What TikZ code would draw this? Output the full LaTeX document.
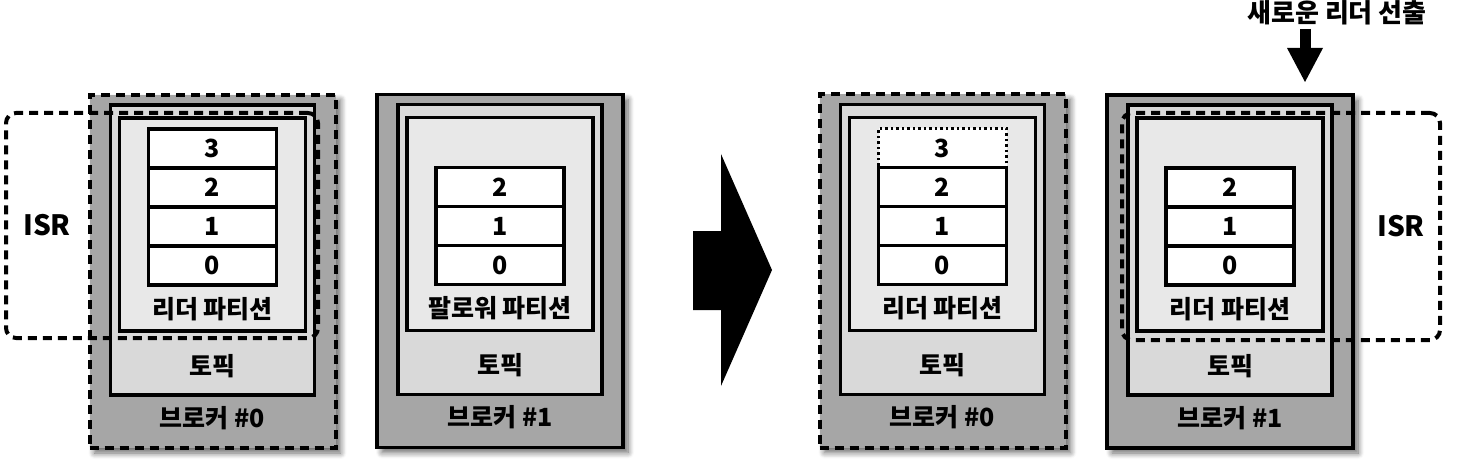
\documentclass[tikz,border=0pt]{standalone}
\usepackage{fontspec}
\setmainfont{Noto Sans CJK KR}
\usepackage{tikz}
\usetikzlibrary{arrows.meta, positioning, shadows.blur}
\usepackage{xcolor}
\definecolor{brokergray}{HTML}{A6A6A6}
\definecolor{topicgray}{HTML}{D9D9D9}
\definecolor{partgray}{HTML}{E8E8E8}

\begin{document}
\begin{tikzpicture}[
        x=1pt, y=-1pt,
        broker/.style={rectangle, draw, line width=3.5pt, fill=brokergray, minimum width=246pt, minimum height=353pt, outer sep=0pt,
            blur shadow={shadow xshift=5pt, shadow yshift=-5pt, shadow blur radius=6pt, shadow blur steps=8, shadow opacity=60}},
        dashbroker/.style={broker, dash pattern=on 9pt off 6pt, line width=4pt},
        topicbox/.style={rectangle, draw, line width=3.5pt, fill=topicgray, minimum width=204pt, minimum height=290pt, outer sep=0pt},
        partbox/.style={rectangle, draw, line width=3.5pt, fill=partgray, minimum width=186pt, minimum height=213pt, outer sep=0pt},
        logcell/.style={rectangle, draw, line width=3.5pt, fill=white, minimum width=128pt, minimum height=39pt, inner sep=0pt, outer sep=0pt, font=\fontsize{25}{25}\selectfont\bfseries},
        newcell/.style={logcell, dash pattern=on 2.5pt off 3pt, line width=3pt},
        lbl/.style={inner sep=0pt, font=\fontsize{25}{25}\selectfont\bfseries},
        isrbox/.style={rectangle, draw, line width=4pt, dash pattern=on 9pt off 6pt, rounded corners=10pt, minimum width=312pt, minimum height=225pt},
        isrlbl/.style={inner sep=0pt, font=\fontsize{28}{28}\selectfont\bfseries},
        arrow/.style={line width=11pt, -{Triangle[width=36pt, length=34pt, line width=0pt]}}
    ]
        \useasboundingbox (0,0) rectangle (1478,468);

        % before: broker 0 (leader) and broker 1 (follower)
        \node [dashbroker] (before0) at (212.5,271.5) {};
        \node [topicbox, below=10pt of before0.north] (topicA0) {};
        \node [partbox, below=13pt of topicA0.north] (partA0) {};
        \node [logcell, below=11pt of partA0.north] (cellA3) {3};
        \node [logcell, below=0pt of cellA3] (cellA2) {2};
        \node [logcell, below=0pt of cellA2] (cellA1) {1};
        \node [logcell, below=0pt of cellA1] (cellA0) {0};
        \node [lbl, below=12pt of cellA0] {리더 파티션};
        \node [lbl, above=17pt of topicA0.south] {토픽};
        \node [lbl, above=18pt of before0.south] {브로커 \#0};

        \node [broker] (before1) at (500,271) {};
        \node [topicbox, below=10pt of before1.north] (topicA1) {};
        \node [partbox, below=13pt of topicA1.north] (partA1) {};
        \node [logcell, below=50pt of partA1.north] (cellB2) {2};
        \node [logcell, below=0pt of cellB2] (cellB1) {1};
        \node [logcell, below=0pt of cellB1] (cellB0) {0};
        \node [lbl, below=12pt of cellB0] {팔로워 파티션};
        \node [lbl, above=17pt of topicA1.south] {토픽};
        \node [lbl, above=18pt of before1.south] {브로커 \#1};

        \node [isrbox] (isrA) at (162,225.5) {};
        \node [isrlbl, right=19pt of isrA.west] {ISR};

        % transition
        \fill (693,231) -- (721,231) -- (721,154) -- (772,270) -- (721,386) -- (721,310) -- (693,310) -- cycle;

        % after: broker 1 becomes leader
        \node [dashbroker] (after0) at (942.5,271) {};
        \node [topicbox, below=10pt of after0.north] (topicC0) {};
        \node [partbox, below=13pt of topicC0.north] (partC0) {};
        \node [newcell, below=11pt of partC0.north] (cellC3) {3};
        \node [logcell, below=0pt of cellC3] (cellC2) {2};
        \node [logcell, below=0pt of cellC2] (cellC1) {1};
        \node [logcell, below=0pt of cellC1] (cellC0) {0};
        \node [lbl, below=12pt of cellC0] {리더 파티션};
        \node [lbl, above=17pt of topicC0.south] {토픽};
        \node [lbl, above=18pt of after0.south] {브로커 \#0};

        \node [broker] (after1) at (1230,271.5) {};
        \node [topicbox, below=10pt of after1.north] (topicC1) {};
        \node [partbox, below=13pt of topicC1.north] (partC1) {};
        \node [logcell, below=50pt of partC1.north] (cellD2) {2};
        \node [logcell, below=0pt of cellD2] (cellD1) {1};
        \node [logcell, below=0pt of cellD1] (cellD0) {0};
        \node [lbl, below=12pt of cellD0] {리더 파티션};
        \node [lbl, above=17pt of topicC1.south] {토픽};
        \node [lbl, above=18pt of after1.south] {브로커 \#1};

        \node [isrbox, minimum width=318pt, minimum height=227pt] (isrD) at (1281,226.5) {};
        \node [isrlbl, left=17pt of isrD.east] {ISR};

        \node [lbl, font=\fontsize{26}{26}\selectfont\bfseries] (elect) at (1337,13) {새로운 리더 선출};
        \coordinate (electfoot) at (1305,29);
        \coordinate (electtip) at (1305,82);
        \draw [arrow] (electfoot) -- (electtip);
    \end{tikzpicture}
\end{document}
